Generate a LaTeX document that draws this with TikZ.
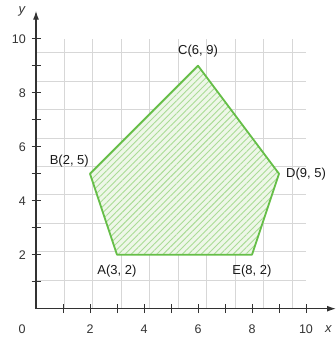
\documentclass[tikz,border=0pt]{standalone}
\usepackage{fontspec}
\setmainfont{Liberation Sans}
\usetikzlibrary{patterns.meta,arrows.meta}
\definecolor{gridgray}{RGB}{215,215,215}
\definecolor{polygreen}{RGB}{102,190,72}
\definecolor{hatchgreen}{RGB}{170,220,150}
\definecolor{fillgreen}{RGB}{238,247,232}
\definecolor{axisgray}{RGB}{50,50,50}
\begin{document}
\begin{tikzpicture}[x=27pt,y=27pt,
  gridline/.style={gridgray,line width=0.9pt},
  axisline/.style={axisgray,line width=1.3pt,-{Latex[length=9pt,width=6pt]}},
  tickmark/.style={axisgray,line width=1pt},
  ptlabel/.style={font=\fontsize{13}{15}\selectfont,inner sep=1pt,text=black!90},
  numlabel/.style={font=\fontsize{12.5}{14}\selectfont,inner sep=0pt,text=black!80},
  poly/.style={polygreen,line width=1.8pt,line join=round}]
\useasboundingbox (-36pt,-32.3pt) rectangle (300pt,308.7pt);
% grid
\draw[gridline] (0,0) grid (10,10);
% polygon
\coordinate (A) at (3,2);
\coordinate (B) at (2,5);
\coordinate (C) at (6,9);
\coordinate (D) at (9,5);
\coordinate (E) at (8,2);
\fill[fillgreen] (A) -- (B) -- (C) -- (D) -- (E) -- cycle;
\fill[pattern={Lines[angle=45,distance=4.5pt,line width=0.9pt]},pattern color=hatchgreen] (A) -- (B) -- (C) -- (D) -- (E) -- cycle;
\draw[poly] (A) -- (B) -- (C) -- (D) -- (E) -- cycle;
% axes
\coordinate (O) at (0,0);
\coordinate (xend) at (300pt,0);
\coordinate (yend) at (0,298pt);
\draw[axisline] (O) -- (xend);
\draw[axisline] (O) -- (yend);
\foreach \i in {1,...,10}{
  \draw[tickmark] (\i,-4.5pt) -- (\i,4.5pt);
  \draw[tickmark] (-4.5pt,\i) -- (4.5pt,\i);
}
\foreach \i in {2,4,...,10}{
  \node[numlabel] (xl\i) at (\i,-20pt) {\i};
  \node[numlabel,anchor=east] (yl\i) at (-10pt,\i) {\i};
}
\node[numlabel] (zero) at (-14pt,-20pt) {0};
\node[numlabel,font=\itshape\fontsize{13}{14}\selectfont] (ylab) at (-14pt,297pt) {y};
\node[numlabel,font=\itshape\fontsize{13}{14}\selectfont,anchor=west] (xlab) at (289pt,-20pt) {x};
% labels
\node[ptlabel,anchor=north] (lA) at ([yshift=-9pt]A) {A(3, 2)};
\node[ptlabel,anchor=south east] (lB) at ([yshift=5pt]B) {B(2, 5)};
\node[ptlabel,anchor=south] (lC) at ([yshift=7pt]C) {C(6, 9)};
\node[ptlabel,anchor=west] (lD) at ([xshift=6pt]D) {D(9, 5)};
\node[ptlabel,anchor=north] (lE) at ([yshift=-9pt]E) {E(8, 2)};
\end{tikzpicture}
\end{document}
